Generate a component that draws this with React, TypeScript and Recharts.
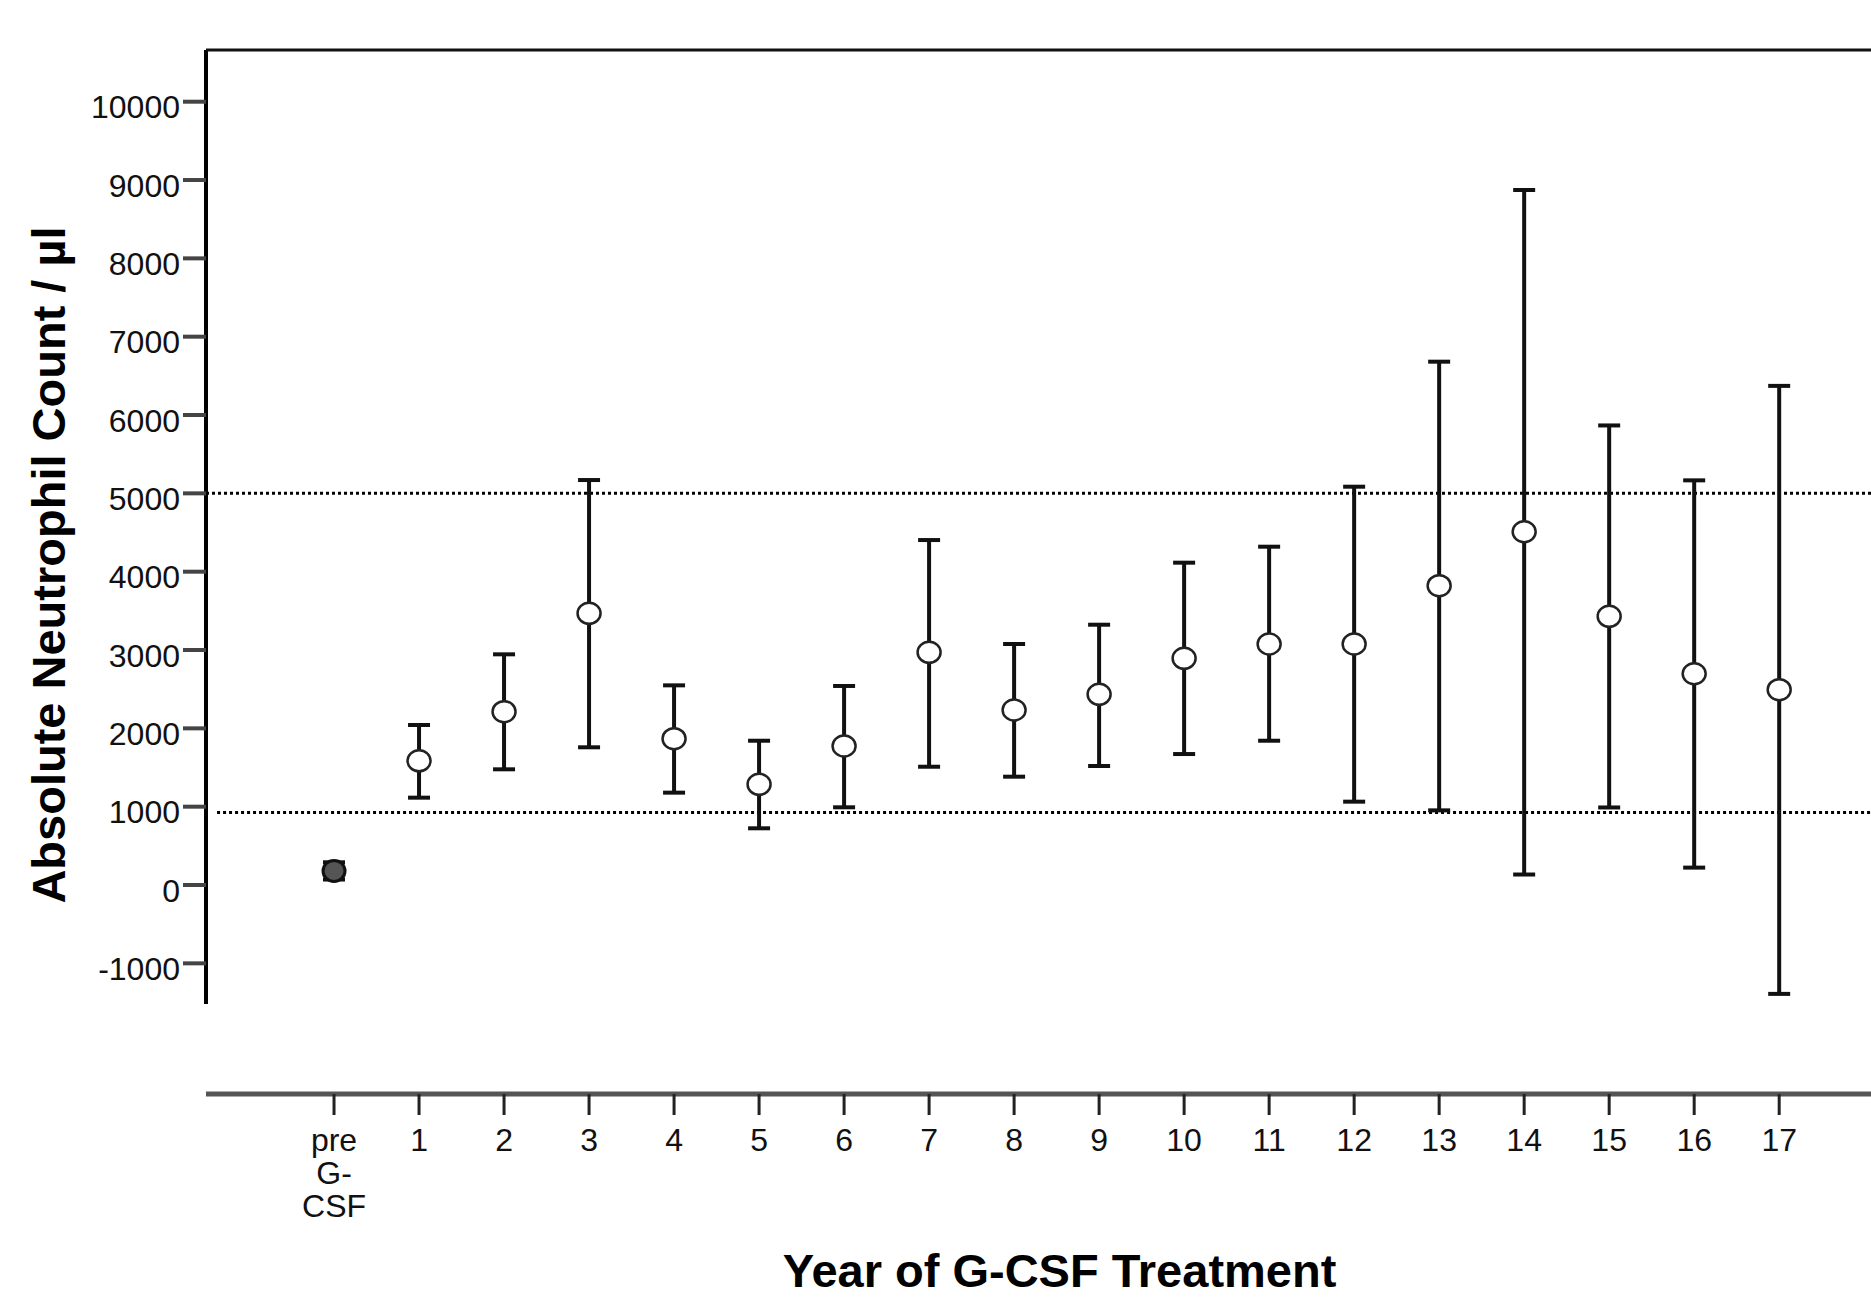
import { ComposedChart, Scatter, ErrorBar, XAxis, YAxis, ReferenceLine, Label } from 'recharts'

// years of treatment (index 0 = before G-CSF)
const years = ['pre\nG-\nCSF', '1', '2', '3', '4', '5', '6', '7', '8', '9', '10', '11', '12', '13', '14', '15', '16', '17']
const means = [180, 1585, 2213, 3468, 1868, 1286, 1775, 2971, 2234, 2434, 2894, 3077, 3077, 3821, 4510, 3430, 2697, 2494]
const upper = [290, 2043, 2945, 5170, 2549, 1842, 2541, 4404, 3077, 3323, 4115, 4319, 5085, 6681, 8873, 5867, 5166, 6372]
const lower = [70, 1115, 1477, 1758, 1179, 724, 992, 1510, 1383, 1519, 1672, 1842, 1064, 953, 134, 990, 222, -1390]
const yTicks = [-1000, 0, 1000, 2000, 3000, 4000, 5000, 6000, 7000, 8000, 9000, 10000]
const normalLow = 925
const normalHigh = 5000

const Y_MIN = -2668
const Y_MAX = 10660
const Y_AXIS_END = -1520
const X_MIN = -1.506
const X_MAX = 18.08

const FONT = '"Liberation Sans", Arial, sans-serif'

const data = years.map((label, i) => ({
  x: i,
  label,
  mean: means[i],
  err: [means[i] - lower[i], upper[i] - means[i]],
}))
const preData = data.slice(0, 1)
const treatData = data.slice(1)

const Ring = (props: any) => (
  <ellipse cx={props.cx} cy={props.cy} rx={11.5} ry={10.5} fill="#fff" stroke="#222" strokeWidth={2.5} />
)
const FilledRing = (props: any) => (
  <ellipse cx={props.cx} cy={props.cy} rx={11} ry={10.5} fill="#555" stroke="#111" strokeWidth={3} />
)

const XTick = ({ x, y, payload }: any) => {
  const lines = (years[payload.value] ?? '').split('\n')
  return (
    <text x={x} y={y} textAnchor="middle" fontSize={32} fill="#111" fontFamily={FONT}>
      {lines.map((l, i) => (
        <tspan key={i} x={x} dy={i === 0 ? 34 : 33}>{l}</tspan>
      ))}
    </text>
  )
}

const YTick = ({ x, y, payload }: any) => (
  <text x={x} y={y + 16.5} textAnchor="end" fontSize={32} fill="#111" fontFamily={FONT}>
    {payload.value}
  </text>
)

const YTitle = ({ viewBox }: any) => {
  const cx = viewBox.x + 65
  const cy = viewBox.y + viewBox.height / 2 - 7
  return (
    <text x={cx} y={cy} transform={`rotate(-90, ${cx}, ${cy})`} textAnchor="middle"
      fontSize={47} fontWeight="bold" fill="#000" fontFamily={FONT}>
      Absolute Neutrophil Count / µl
    </text>
  )
}

const XTitle = ({ viewBox }: any) => (
  <text x={viewBox.x + viewBox.width / 2 + 21} y={viewBox.y + viewBox.height - 10} textAnchor="middle"
    fontSize={47} fontWeight="bold" fill="#000" fontFamily={FONT}>
    Year of G-CSF Treatment
  </text>
)

export default function App() {
  return (
    <div style={{ position: 'absolute', left: 0, top: 0, background: '#fff' }}>
      <ComposedChart width={1871} height={1297} margin={{ top: 50, right: 0, left: 0, bottom: 0 }}>
        <XAxis
          type="number"
          dataKey="x"
          domain={[X_MIN, X_MAX]}
          allowDataOverflow
          ticks={years.map((_, i) => i)}
          interval={0}
          height={203}
          tickSize={21}
          tickMargin={2}
          axisLine={{ stroke: '#555', strokeWidth: 5 }}
          tickLine={{ stroke: '#222', strokeWidth: 3 }}
          tick={<XTick />}
        >
          <Label content={<XTitle />} />
        </XAxis>
        <YAxis
          type="number"
          dataKey="mean"
          domain={[Y_MIN, Y_MAX]}
          allowDataOverflow
          ticks={yTicks}
          interval={0}
          width={206}
          tickSize={23}
          tickMargin={3}
          axisLine={false}
          tickLine={{ stroke: '#444', strokeWidth: 4 }}
          tick={<YTick />}
        >
          <Label content={<YTitle />} />
        </YAxis>

        {/* frame: left axis line and top border */}
        <ReferenceLine
          segment={[{ x: X_MIN, y: Y_AXIS_END }, { x: X_MIN, y: Y_MAX }]}
          stroke="#000"
          strokeWidth={4}
          ifOverflow="visible"
        />
        <ReferenceLine y={Y_MAX} stroke="#111" strokeWidth={3} ifOverflow="visible" />

        {/* normal range */}
        <ReferenceLine y={normalHigh} stroke="#000" strokeWidth={3} strokeDasharray="3 3" />
        <ReferenceLine
          segment={[{ x: -1.376, y: normalLow }, { x: X_MAX, y: normalLow }]}
          stroke="#000"
          strokeWidth={3}
          strokeDasharray="3 3"
        />

        <Scatter data={treatData} dataKey="mean" shape={<Ring />} isAnimationActive={false}>
          <ErrorBar dataKey="err" direction="y" width={11} stroke="#111" strokeWidth={4} isAnimationActive={false} />
        </Scatter>
        <Scatter data={preData} dataKey="mean" shape={<FilledRing />} isAnimationActive={false}>
          <ErrorBar dataKey="err" direction="y" width={11} stroke="#111" strokeWidth={4} isAnimationActive={false} />
        </Scatter>
      </ComposedChart>
    </div>
  )
}
